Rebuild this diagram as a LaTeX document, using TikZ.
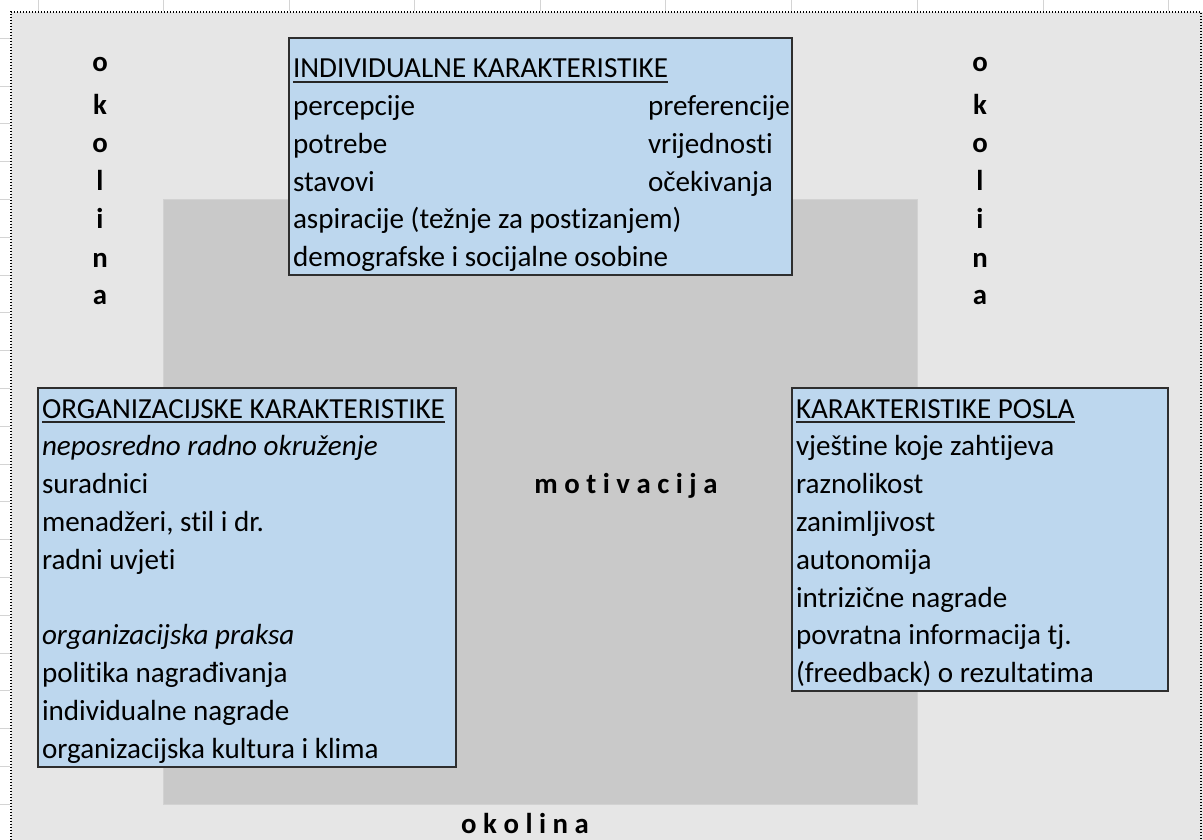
\documentclass[tikz,border=0pt]{standalone}
\usepackage{fontspec}
\setmainfont{Carlito}[Ligatures={NoCommon}]
\definecolor{sheet}{HTML}{E6E6E6}
\definecolor{coregrey}{HTML}{C9C9C9}
\definecolor{coreedge}{HTML}{D2D2D2}
\definecolor{boxblue}{HTML}{BDD7EE}
\definecolor{boxline}{HTML}{2E2E2E}
\definecolor{gridc}{HTML}{D4D4D4}
\begin{document}
\begin{tikzpicture}[x=1pt,y=-1pt,
  every node/.style={inner sep=0pt, outer sep=0pt, font=\fontsize{29.1}{34}\selectfont},
  txt/.style={anchor=base west},
  itxt/.style={anchor=base west, font=\fontsize{29.1}{34}\selectfont\itshape},
  lbl/.style={anchor=base, font=\fontsize{28.8}{34}\selectfont\bfseries},
  box/.style={draw=boxline, line width=1.4pt, fill=boxblue, anchor=north west},
  corebox/.style={draw=coreedge, line width=0.8pt, fill=coregrey, anchor=north west},
  uline/.style={line width=1.3pt, draw=black!85},
  gridline/.style={draw=gridc, line width=0.9pt},
  dotborder/.style={draw=black, line width=1.3pt, dash pattern=on 1.3pt off 1.7pt}
]
\useasboundingbox (0,0) rectangle (1203,840);
\fill[white] (0,0) rectangle (1203,840);
\fill[sheet] (11,12) rectangle (1203,840);
% spreadsheet grid outside the frame
\foreach \x in {38,163,289,414,540,665,791,917,1043,1168} \draw[gridline] (\x,0) -- (\x,11);
\draw[gridline] (0,38) -- (10,38);
\foreach \k in {0,...,19} \draw[gridline] (0,86+37.8*\k) -- (10,86+37.8*\k);
% dotted frame
\coordinate (fbl) at (11,840);
\coordinate (ftl) at (11,12);
\coordinate (ftr) at (1201,12);
\coordinate (fbr) at (1201,840);
\draw[dotborder] (fbl) -- (ftl) -- (ftr) -- (fbr);
% central grey area
\node[corebox, minimum width=754, minimum height=605] (core) at (163,199) {};
% boxes
\node[box, minimum width=503, minimum height=237] (ind) at (289,38) {};
\node[box, minimum width=418, minimum height=379] (org) at (38,388) {};
\node[box, minimum width=376, minimum height=303] (job) at (792,388) {};
% individual
\node[txt] (i0) at (293,78) {INDIVIDUALNE KARAKTERISTIKE};
\draw[uline] ([yshift=-3.8pt]i0.south west) -- ([yshift=-3.8pt]i0.south east);
\node[txt] (i1) at (293,115.7) {percepcije};
\node[txt] (i2) at (293,153.4) {potrebe};
\node[txt] (i3) at (293,191.1) {stavovi};
\node[txt] (i4) at (293,228.8) {aspiracije (težnje za postizanjem)};
\node[txt] (i5) at (293,266.5) {demografske i socijalne osobine};
\node[txt] (i6) at (648,115.7) {preferencije};
\node[txt] (i7) at (648,153.4) {vrijednosti};
\node[txt] (i8) at (648,191.1) {očekivanja};
% organizational
\node[txt] (o0) at (42,418) {ORGANIZACIJSKE KARAKTERISTIKE};
\draw[uline] ([yshift=-3.8pt]o0.south west) -- ([yshift=-3.8pt]o0.south east);
\node[itxt] (o1) at (42,455.8) {neposredno radno okruženje};
\node[txt] (o2) at (42,493.6) {suradnici};
\node[txt] (o3) at (42,531.4) {menadžeri, stil i dr.};
\node[txt] (o4) at (42,569.2) {radni uvjeti};
\node[itxt] (o5) at (42,644.8) {organizacijska praksa};
\node[txt] (o6) at (42,682.6) {politika nagrađivanja};
\node[txt] (o7) at (42,720.4) {individualne nagrade};
\node[txt] (o8) at (42,758.2) {organizacijska kultura i klima};
% job
\node[txt] (j0) at (796,418) {KARAKTERISTIKE POSLA};
\draw[uline] ([yshift=-3.8pt]j0.south west) -- ([yshift=-3.8pt]j0.south east);
\node[txt] (j1) at (796,455.8) {vještine koje zahtijeva};
\node[txt] (j2) at (796,493.6) {raznolikost};
\node[txt] (j3) at (796,531.4) {zanimljivost};
\node[txt] (j4) at (796,569.2) {autonomija};
\node[txt] (j5) at (796,607) {intrizične nagrade};
\node[txt] (j6) at (796,644.8) {povratna informacija tj.};
\node[txt] (j7) at (796,682.6) {(freedback) o rezultatima};
% okolina left / right
\foreach \c/\yy [count=\n] in {o/72,k/115,o/153,l/191,i/229,n/267,a/304} {
  \node[lbl] (L\n) at (100,\yy) {\c};
  \node[lbl] (R\n) at (980,\yy) {\c};
}
% labels
\node[lbl] (mot) at (626,493) {m o t i v a c i j a};
\node[lbl] (okb) at (525,833) {o k o l i n a};
\end{tikzpicture}
\end{document}
